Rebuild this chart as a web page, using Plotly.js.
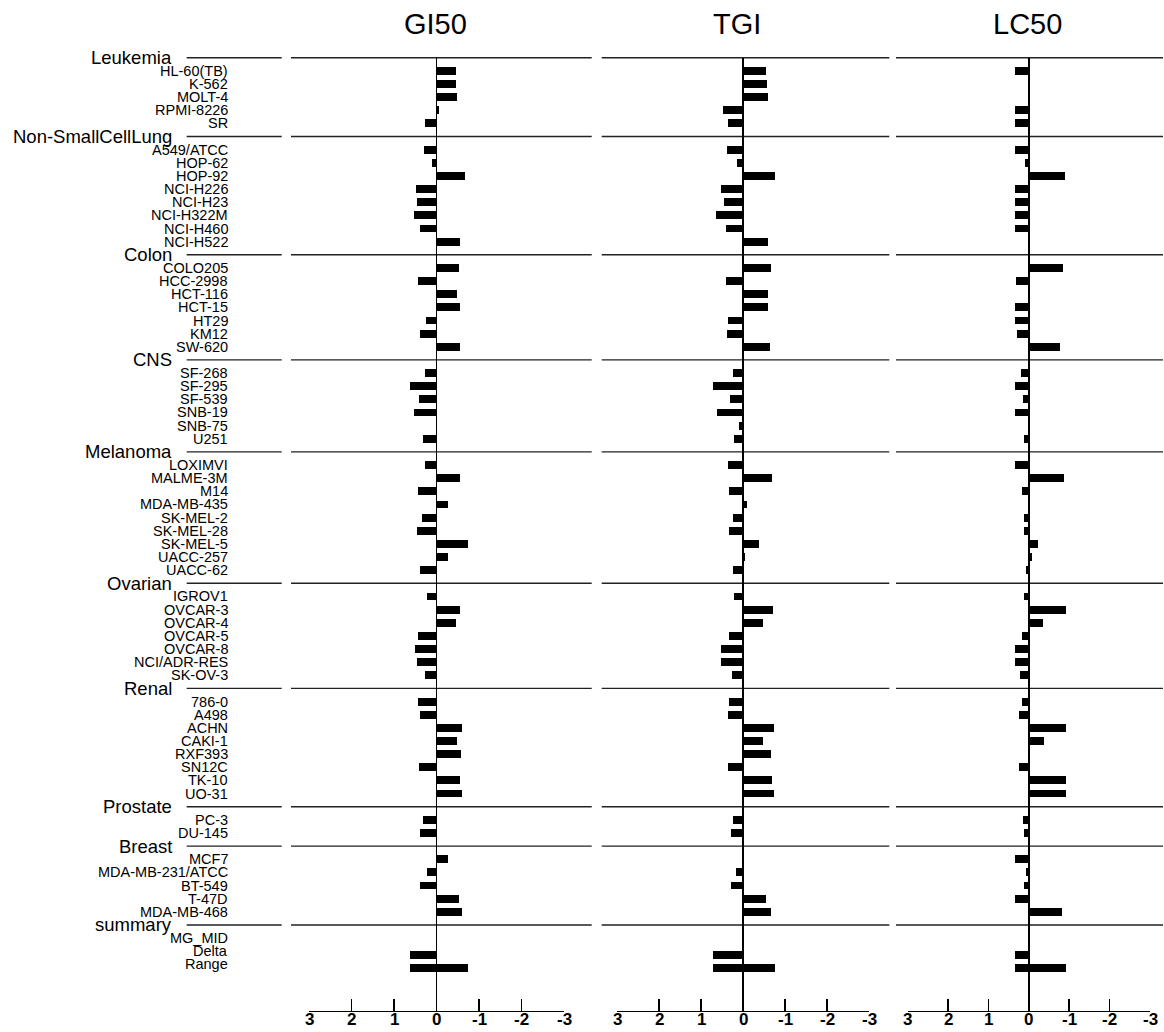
<!DOCTYPE html>
<html>
<head>
<meta charset="utf-8">
<script src="https://cdn.plot.ly/plotly-3.0.1.min.js"></script>
<style>
  html, body { margin: 0; padding: 0; background: #ffffff; }
  #chart { width: 1164px; height: 1032px; }
</style>
</head>
<body>
<div id="chart"></div>
<script>
// ---------------- DATA ----------------
const panelTitles = ['GI50', 'TGI', 'LC50'];

const groupNames = ['Leukemia', 'Non-SmallCellLung', 'Colon', 'CNS', 'Melanoma',
  'Ovarian', 'Renal', 'Prostate', 'Breast'];
const groupSizes = [5, 8, 7, 6, 9, 7, 8, 2, 5];

const cellLines = [
  'HL-60(TB)', 'K-562', 'MOLT-4', 'RPMI-8226', 'SR',
  'A549/ATCC', 'HOP-62', 'HOP-92', 'NCI-H226', 'NCI-H23', 'NCI-H322M', 'NCI-H460', 'NCI-H522',
  'COLO205', 'HCC-2998', 'HCT-116', 'HCT-15', 'HT29', 'KM12', 'SW-620',
  'SF-268', 'SF-295', 'SF-539', 'SNB-19', 'SNB-75', 'U251',
  'LOXIMVI', 'MALME-3M', 'M14', 'MDA-MB-435', 'SK-MEL-2', 'SK-MEL-28', 'SK-MEL-5', 'UACC-257', 'UACC-62',
  'IGROV1', 'OVCAR-3', 'OVCAR-4', 'OVCAR-5', 'OVCAR-8', 'NCI/ADR-RES', 'SK-OV-3',
  '786-0', 'A498', 'ACHN', 'CAKI-1', 'RXF393', 'SN12C', 'TK-10', 'UO-31',
  'PC-3', 'DU-145',
  'MCF7', 'MDA-MB-231/ATCC', 'BT-549', 'T-47D', 'MDA-MB-468'
];

const gi50 = [
  -0.47, -0.47, -0.49, -0.07, 0.28,
  0.29, 0.11, -0.67, 0.49, 0.45, 0.52, 0.38, -0.55,
  -0.53, 0.44, -0.49, -0.56, 0.24, 0.40, -0.56,
  0.26, 0.62, 0.42, 0.53, -0.02, 0.31,
  0.26, -0.56, 0.44, -0.26, 0.35, 0.47, -0.75, -0.28, 0.38,
  0.23, -0.56, -0.47, 0.43, 0.51, 0.47, 0.26,
  0.44, 0.40, -0.60, -0.49, -0.57, 0.41, -0.55, -0.60,
  0.31, 0.40,
  -0.28, 0.23, 0.39, -0.54, -0.59
];

const tgi = [
  -0.55, -0.57, -0.58, 0.49, 0.36,
  0.39, 0.16, -0.75, 0.52, 0.47, 0.66, 0.40, -0.60,
  -0.65, 0.41, -0.60, -0.60, 0.37, 0.38, -0.63,
  0.25, 0.73, 0.31, 0.62, 0.10, 0.23,
  0.37, -0.69, 0.33, -0.08, 0.25, 0.33, -0.38, -0.05, 0.25,
  0.21, -0.71, -0.48, 0.33, 0.52, 0.54, 0.26,
  0.34, 0.36, -0.74, -0.46, -0.65, 0.37, -0.69, -0.72,
  0.25, 0.29,
  0.04, 0.18, 0.29, -0.55, -0.67
];

const lc50 = [
  0.34, null, null, 0.34, 0.34,
  0.34, 0.10, -0.90, 0.34, 0.34, 0.34, 0.34, null,
  -0.84, 0.32, null, 0.34, 0.34, 0.30, -0.78,
  0.19, 0.34, 0.14, 0.34, 0.02, 0.11,
  0.34, -0.87, 0.17, -0.03, 0.11, 0.12, -0.22, -0.08, 0.07,
  0.13, -0.92, -0.35, 0.17, 0.35, 0.35, 0.21,
  0.17, 0.24, -0.93, -0.37, null, 0.25, -0.91, -0.92,
  0.14, 0.12,
  0.34, 0.08, 0.12, 0.34, -0.81
];

const summaryGroup = 'summary';
const summaryLabels = ['MG_MID', 'Delta', 'Range'];
const mgMid = [null, null, null];          // GI50, TGI, LC50
const deltaValues = [0.63, 0.73, 0.34];
const rangeLow = [0.63, 0.73, 0.34];
const rangeHigh = [-0.75, -0.75, -0.93];

const tickValues = [3, 2, 1, 0, -1, -2, -3];
const tickLabels = ['3', '2', '1', '0', '-1', '-2', '-3'];

// ---------------- LAYOUT GEOMETRY ----------------
const W = 1164, H = 1032;
const FONT = 'Liberation Sans, Arial, Helvetica, sans-serif';
const topPx = 57.7, slotPx = 13.14, axisPx = 1010.7;
const tickLabelPx = 1019.5;
const panelAxisPx = [[309, 564], [617.3, 869.3], [907.7, 1150]];
const panelLinePx = [[291, 591.7], [601.7, 889.3], [896, 1163]];
const labelLinePx = [186.7, 281.7];
const groupLabelRightPx = 174;
const cellLabelRightPx = 230;
const titlePx = [435, 737, 1027];
const summaryShift = 0.28;

// slot indices
let slot = 0;
const headerSlots = [];
const cellSlots = [];
groupSizes.forEach((n) => {
  headerSlots.push(slot); slot++;
  for (let i = 0; i < n; i++) { cellSlots.push(slot); slot++; }
});
headerSlots.push(slot); slot++;
const summarySlots = [];
for (let i = 0; i < summaryLabels.length; i++) { summarySlots.push(slot); slot++; }
const allHeaderNames = groupNames.concat([summaryGroup]);

const panelValues = [gi50, tgi, lc50];
const axisIds = ['x', 'x2', 'x3'];
const barWidth = 0.6;

const traces = [];
panelValues.forEach((vals, p) => {
  traces.push({
    type: 'bar', orientation: 'h',
    x: vals, y: cellSlots,
    xaxis: axisIds[p], yaxis: 'y',
    width: barWidth,
    marker: { color: '#000000', line: { width: 0 } },
    hoverinfo: 'skip', showlegend: false
  });
  traces.push({
    type: 'bar', orientation: 'h',
    x: [mgMid[p], deltaValues[p], rangeHigh[p] - rangeLow[p]],
    base: [0, 0, rangeLow[p]],
    y: summarySlots.map(s => s + summaryShift),
    xaxis: axisIds[p], yaxis: 'y',
    width: barWidth,
    marker: { color: '#000000', line: { width: 0 } },
    hoverinfo: 'skip', showlegend: false
  });
});

function xAxis(p) {
  return {
    domain: [panelAxisPx[p][0] / W, panelAxisPx[p][1] / W],
    range: [3, -3],
    anchor: 'y',
    showline: true, linecolor: '#000', linewidth: 1.7,
    ticks: 'inside', ticklen: 12, tickwidth: 1.7, tickcolor: '#000',
    tickmode: 'array', tickvals: tickValues, ticktext: tickLabels,
    showticklabels: false,
    zeroline: true, zerolinecolor: '#000', zerolinewidth: 1.7,
    showgrid: false, fixedrange: true
  };
}

// separator lines: slot -> pixel row -> paper fraction (avoids clipping at the top edge)
function slotToPaper(s) { return 1 - (topPx + s * slotPx) / H; }

const shapes = [];
headerSlots.forEach((s) => {
  [labelLinePx].concat(panelLinePx).forEach((seg) => {
    shapes.push({
      type: 'line', xref: 'paper', yref: 'paper',
      x0: seg[0] / W, x1: seg[1] / W, y0: slotToPaper(s), y1: slotToPaper(s),
      line: { color: '#222', width: 1.4 }, layer: 'below'
    });
  });
});

const annotations = [];
panelTitles.forEach((t, p) => {
  annotations.push({
    text: t, xref: 'paper', yref: 'paper',
    x: titlePx[p] / W, y: 1 - 23.5 / H, xanchor: 'center', yanchor: 'middle',
    showarrow: false, font: { family: FONT, size: 29, color: '#000' }
  });
});
// tick labels of each x axis, placed through that axis' own scale
axisIds.forEach((ax) => {
  tickValues.forEach((v, i) => {
    annotations.push({
      text: '<b>' + tickLabels[i] + '</b>', xref: ax, yref: 'paper',
      x: v, y: 1 - tickLabelPx / H, xanchor: 'center', yanchor: 'middle',
      showarrow: false, borderpad: 0,
      font: { family: FONT, size: 17, color: '#000' }
    });
  });
});
allHeaderNames.forEach((g, i) => {
  annotations.push({
    text: g, xref: 'paper', yref: 'y',
    x: groupLabelRightPx / W, y: headerSlots[i], xanchor: 'right', yanchor: 'middle',
    showarrow: false, font: { family: FONT, size: 18.5, color: '#000' }
  });
});
cellLines.forEach((c, i) => {
  annotations.push({
    text: c, xref: 'paper', yref: 'y',
    x: cellLabelRightPx / W, y: cellSlots[i], xanchor: 'right', yanchor: 'middle',
    showarrow: false, font: { family: FONT, size: 14.5, color: '#000' }
  });
});
summaryLabels.forEach((c, i) => {
  annotations.push({
    text: c, xref: 'paper', yref: 'y',
    x: cellLabelRightPx / W, y: summarySlots[i], xanchor: 'right', yanchor: 'middle',
    showarrow: false, font: { family: FONT, size: 14.5, color: '#000' }
  });
});

const layout = {
  width: W, height: H,
  margin: { l: 0, r: 0, t: 0, b: 0, pad: 0 },
  paper_bgcolor: '#ffffff', plot_bgcolor: 'rgba(0,0,0,0)',
  barmode: 'overlay', bargap: 0,
  showlegend: false,
  font: { family: FONT, color: '#000' },
  xaxis: xAxis(0), xaxis2: xAxis(1), xaxis3: xAxis(2),
  yaxis: {
    domain: [1 - axisPx / H, 1 - topPx / H],
    range: [(axisPx - topPx) / slotPx, 0],
    visible: false, fixedrange: true
  },
  shapes: shapes,
  annotations: annotations
};

Plotly.newPlot('chart', traces, layout, { staticPlot: true, displayModeBar: false });
</script>
</body>
</html>
